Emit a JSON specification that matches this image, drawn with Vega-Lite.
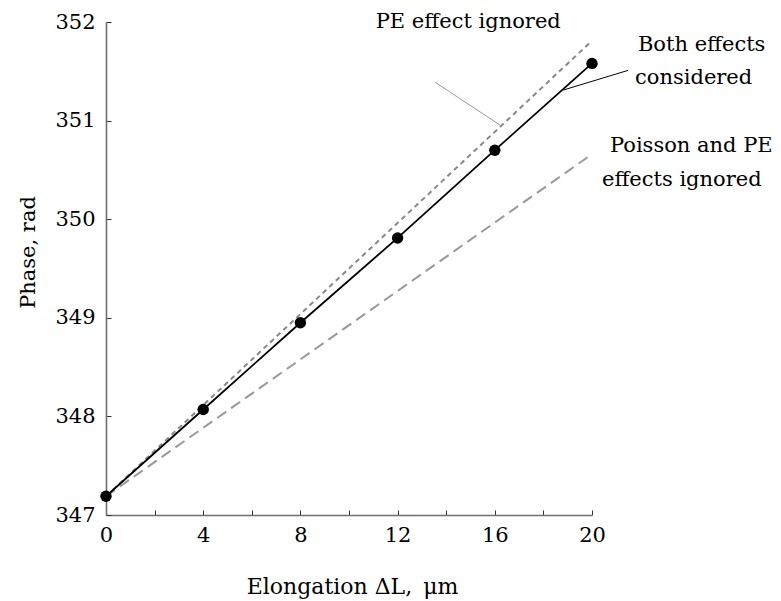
{
  "$schema": "https://vega.github.io/schema/vega-lite/v6.json",
  "width": 486,
  "height": 493,
  "autosize": {"type": "none"},
  "padding": {"left": 106, "top": 22, "right": 189, "bottom": 86},
  "background": "white",
  "config": {
    "view": {"stroke": null},
    "font": "DejaVu Serif",
    "axis": {
      "grid": false,
      "labelFont": "DejaVu Serif",
      "labelFontSize": 21,
      "labelColor": "black",
      "labelFlush": false,
      "titleFont": "DejaVu Serif",
      "titleFontSize": 21,
      "titleFontWeight": "normal",
      "titleColor": "black",
      "domainColor": "#6e6e6e",
      "domainWidth": 1.6,
      "tickColor": "#333333",
      "tickWidth": 1,
      "tickSize": -5
    }
  },
  "datasets": {
    "lines": [
      {"series": "Both effects considered", "x": 0, "y": 347.19},
      {"series": "Both effects considered", "x": 4, "y": 348.07},
      {"series": "Both effects considered", "x": 8, "y": 348.95},
      {"series": "Both effects considered", "x": 12, "y": 349.81},
      {"series": "Both effects considered", "x": 16, "y": 350.7},
      {"series": "Both effects considered", "x": 20, "y": 351.58},
      {"series": "PE effect ignored", "x": 0, "y": 347.19},
      {"series": "PE effect ignored", "x": 20, "y": 351.81},
      {"series": "Poisson and PE effects ignored", "x": 0, "y": 347.19},
      {"series": "Poisson and PE effects ignored", "x": 20, "y": 350.66}
    ],
    "leaders": [
      {"series": "PE effect ignored", "x": 13.54, "y": 351.39, "x2": 16.24, "y2": 350.95},
      {"series": "Both effects considered", "x": 21.49, "y": 351.51, "x2": 18.82, "y2": 351.31}
    ],
    "labels": [
      {"text": "PE effect ignored", "x": 11.1, "y": 351.94},
      {"text": "Both effects", "x": 21.89, "y": 351.71},
      {"text": "considered", "x": 21.77, "y": 351.37},
      {"text": "Poisson and PE", "x": 20.74, "y": 350.68},
      {"text": "effects ignored", "x": 20.41, "y": 350.34}
    ]
  },
  "layer": [
    {
      "data": {"name": "lines"},
      "transform": [{"filter": "datum.series === 'Poisson and PE effects ignored'"}],
      "mark": {"type": "line", "color": "#999999", "strokeWidth": 2, "strokeDash": [11, 6]},
      "encoding": {
        "x": {"field": "x", "type": "quantitative", "scale": {"domain": [0, 20], "nice": false},
          "axis": {"values": [0, 2, 4, 6, 8, 10, 12, 14, 16, 18, 20], "format": "d", "labelExpr": "datum.value % 4 === 0 ? datum.label : ''", "labelPadding": 14, "title": "Elongation ΔL,\u2002μm", "titleFontSize": 22, "titleX": 246, "titleY": 78, "titleBaseline": "alphabetic"}},
        "y": {"field": "y", "type": "quantitative", "scale": {"domain": [347, 352], "nice": false, "zero": false},
          "axis": {"values": [347, 347.5, 348, 348.5, 349, 349.5, 350, 350.5, 351, 351.5, 352], "format": "d", "labelExpr": "datum.value % 1 === 0 ? datum.label : ''", "labelPadding": 16, "title": "Phase, rad", "titleX": -72, "titleY": 230, "titleBaseline": "alphabetic"}}
      }
    },
    {
      "data": {"name": "lines"},
      "transform": [{"filter": "datum.series === 'PE effect ignored'"}],
      "mark": {"type": "line", "color": "#888888", "strokeWidth": 2, "strokeDash": [5, 4]},
      "encoding": {
        "x": {"field": "x", "type": "quantitative"},
        "y": {"field": "y", "type": "quantitative"}
      }
    },
    {
      "data": {"name": "lines"},
      "transform": [{"filter": "datum.series === 'Both effects considered'"}],
      "mark": {"type": "line", "color": "black", "strokeWidth": 1.8},
      "encoding": {
        "x": {"field": "x", "type": "quantitative"},
        "y": {"field": "y", "type": "quantitative"}
      }
    },
    {
      "data": {"name": "lines"},
      "transform": [{"filter": "datum.series === 'Both effects considered'"}],
      "mark": {"type": "circle", "color": "black", "opacity": 1, "size": 130},
      "encoding": {
        "x": {"field": "x", "type": "quantitative"},
        "y": {"field": "y", "type": "quantitative"}
      }
    },
    {
      "data": {"name": "leaders"},
      "mark": {"type": "rule", "strokeWidth": 1},
      "encoding": {
        "x": {"field": "x", "type": "quantitative"},
        "y": {"field": "y", "type": "quantitative"},
        "x2": {"field": "x2"},
        "y2": {"field": "y2"},
        "color": {"field": "series", "type": "nominal", "scale": {"domain": ["PE effect ignored", "Both effects considered"], "range": ["#999999", "black"]}, "legend": null}
      }
    },
    {
      "data": {"name": "labels"},
      "mark": {"type": "text", "align": "left", "baseline": "alphabetic", "font": "DejaVu Serif", "fontSize": 21, "color": "black"},
      "encoding": {
        "x": {"field": "x", "type": "quantitative"},
        "y": {"field": "y", "type": "quantitative"},
        "text": {"field": "text"}
      }
    }
  ]
}
